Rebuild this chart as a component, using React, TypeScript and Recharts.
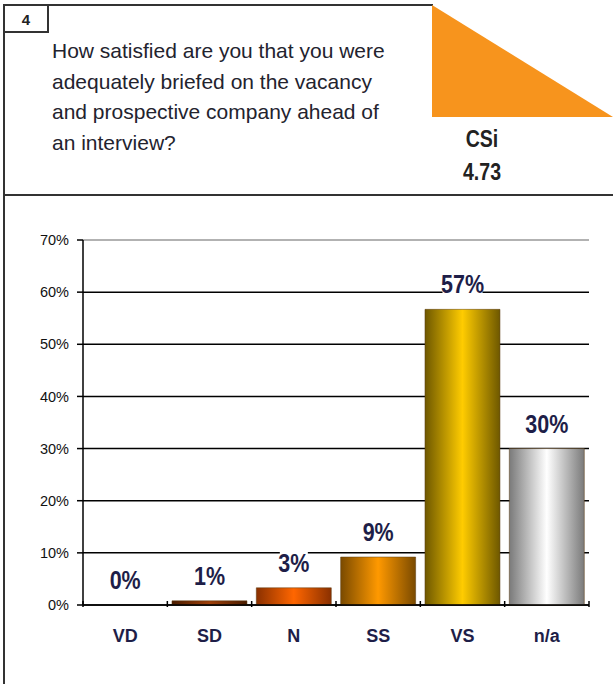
import React from 'react';
import {
  ComposedChart,
  Bar,
  Line,
  XAxis,
  YAxis,
  CartesianGrid,
  Cell,
  ReferenceLine,
} from 'recharts';

// survey answers, Q4
const categories = ['VD', 'SD', 'N', 'SS', 'VS', 'n/a'];
const shares = [0, 0.8, 3.3, 9.2, 56.7, 30.0];
const shareLabels = ['0%', '1%', '3%', '9%', '57%', '30%'];
const yTicks = [0, 10, 20, 30, 40, 50, 60, 70];
const questionLines = [
  'How satisfied are you that you were',
  'adequately briefed on the vacancy',
  'and prospective company ahead of',
  'an interview?',
];
const csiScore = '4.73';

// edge / centre colours for the cylinder look
const shades = [
  ['#5a2a00', '#a04000'],
  ['#4a1c00', '#a0400a'],
  ['#8a3000', '#ff6600'],
  ['#7a4a00', '#ff9900'],
  ['#6e5800', '#ffcc00'],
  ['#7a7a7a', '#ffffff'],
];

const data = categories.map((name, i) => ({ name, share: shares[i], label: shareLabels[i] }));

const ARIAL = "'Liberation Sans', Arial, sans-serif";
const INK = '#1e1e48';

const CHART_W = 613;
const CHART_H = 470;
const MARGIN = { top: 40, right: 24, left: 0, bottom: 0 };
const Y_W = 83;
const PLOT_W = CHART_W - Y_W - MARGIN.right;
const BAND = PLOT_W / categories.length;

const XTick = (props: any) => {
  const { x, y, payload, index } = props;
  const left = x - BAND / 2;
  const axisY = y - 12;
  return (
    <g>
      <line x1={left} x2={left} y1={axisY} y2={axisY + 6} stroke="#000" strokeWidth={1.5} />
      {index === categories.length - 1 && (
        <line x1={left + BAND} x2={left + BAND} y1={axisY} y2={axisY + 6} stroke="#000" strokeWidth={1.5} />
      )}
      <text
        x={x}
        y={axisY + 41}
        textAnchor="middle"
        fontFamily={ARIAL}
        fontWeight="bold"
        fontSize={18}
        fill={INK}
      >
        {payload.value}
      </text>
    </g>
  );
};

// value label sitting above the bar top, with a white patch that cuts the gridline
const ValueLabel = (props: any) => {
  const { x, y, index } = props;
  const text = shareLabels[index];
  const cy = y - 25;
  const w = text.length * 12 + 4;
  return (
    <g>
      <rect x={x - w / 2} y={cy - 13} width={w} height={24} fill="#fff" />
      <text
        transform={`translate(${x},${cy + 9}) scale(0.86,1)`}
        textAnchor="middle"
        fontFamily={ARIAL}
        fontWeight="bold"
        fontSize={25}
        fill={INK}
      >
        {text}
      </text>
    </g>
  );
};

export default function App() {
  return (
    <div
      style={{
        position: 'absolute',
        left: 0,
        top: 0,
        width: 613,
        height: 684,
        background: '#fff',
        overflow: 'hidden',
      }}
    >
      <svg width={613} height={684} style={{ position: 'absolute', left: 0, top: 0 }}>
        {/* frame */}
        <line x1={4} x2={4} y1={4} y2={684} stroke="#333" strokeWidth={2} />
        <line x1={4} x2={433} y1={5} y2={5} stroke="#333" strokeWidth={2} />
        <line x1={4} x2={613} y1={195} y2={195} stroke="#333" strokeWidth={2} />
        <rect x={4} y={5} width={44} height={27} fill="none" stroke="#333" strokeWidth={2} />
        <text x={26} y={25} textAnchor="middle" fontFamily={ARIAL} fontWeight="bold" fontSize={15} fill="#222">
          4
        </text>
        {/* orange corner */}
        <polygon points="432,5 432,117 613,117" fill="#f7941d" />
        {questionLines.map((line, i) => (
          <text key={i} x={52} y={58 + i * 30.5} fontFamily={ARIAL} fontSize={21} fill="#23232e">
            {line}
          </text>
        ))}
        <text
          transform="translate(482,147) scale(0.85,1)"
          textAnchor="middle"
          fontFamily={ARIAL}
          fontWeight="bold"
          fontSize={23}
          fill="#222"
        >
          CSi
        </text>
        <text
          transform="translate(482,180) scale(0.85,1)"
          textAnchor="middle"
          fontFamily={ARIAL}
          fontWeight="bold"
          fontSize={23}
          fill="#222"
        >
          {csiScore}
        </text>
      </svg>
      <div style={{ position: 'absolute', left: 0, top: 200 }}>
        <ComposedChart width={CHART_W} height={CHART_H} data={data} margin={MARGIN} barCategoryGap="5.5%">
          <defs>
            {shades.map(([edge, mid], i) => (
              <linearGradient key={i} id={`shade-${i}`} x1="0" y1="0" x2="1" y2="0">
                <stop offset="0%" stopColor={edge} />
                <stop offset="50%" stopColor={mid} />
                <stop offset="100%" stopColor={edge} />
              </linearGradient>
            ))}
          </defs>
          <CartesianGrid
            vertical={false}
            stroke="#000"
            strokeWidth={1.5}
            horizontalValues={yTicks.slice(0, -1)}
          />
          <ReferenceLine y={70} stroke="#999" strokeWidth={1.5} />
          <XAxis
            dataKey="name"
            tickLine={false}
            axisLine={{ stroke: '#000', strokeWidth: 1.5 }}
            height={65}
            interval={0}
            tick={<XTick />}
          />
          <YAxis
            width={Y_W}
            domain={[0, 70]}
            ticks={yTicks}
            tickFormatter={(v: number) => `${v}%`}
            tick={{ fill: '#111', fontSize: 14.5, fontFamily: ARIAL }}
            tickLine={{ stroke: '#000', strokeWidth: 1.5 }}
            tickSize={6}
            tickMargin={8}
            axisLine={{ stroke: '#000', strokeWidth: 1.5 }}
          />
          <YAxis
            yAxisId="frame"
            orientation="right"
            width={0}
            domain={[0, 70]}
            tick={false}
            tickLine={false}
            axisLine={{ stroke: '#999', strokeWidth: 1.5 }}
          />
          <Bar dataKey="share" isAnimationActive={false}>
            {data.map((_, i) => (
              <Cell key={i} fill={`url(#shade-${i})`} stroke="#5a3a10" strokeWidth={0.5} />
            ))}
          </Bar>
          <Line
            dataKey="share"
            stroke="none"
            dot={false}
            activeDot={false}
            isAnimationActive={false}
            label={<ValueLabel />}
          />
        </ComposedChart>
      </div>
    </div>
  );
}
